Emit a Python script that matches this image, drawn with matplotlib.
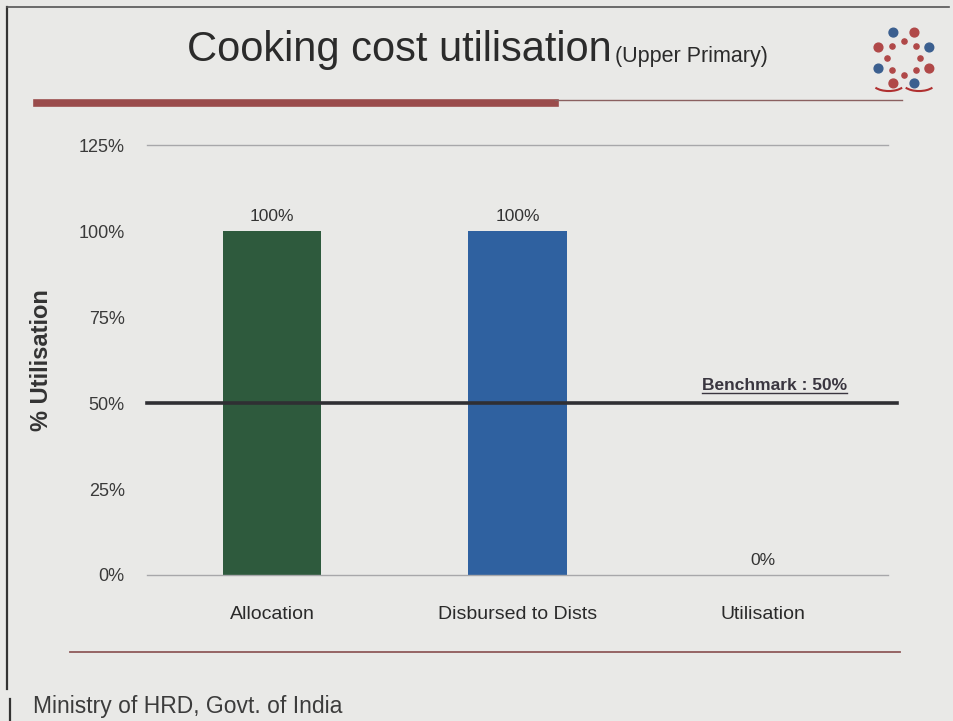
import numpy as np
import matplotlib.pyplot as plt
from matplotlib.lines import Line2D
from matplotlib.patches import Arc

# Data
categories = ["Allocation", "Disbursed to Dists", "Utilisation"]
values = [100, 100, 0]
bar_colors = ["#2e5a3d", "#2f61a0", "#8f8f8f"]
value_labels = ["100%", "100%", "0%"]
benchmark = 50
yticks = [0, 25, 50, 75, 100, 125]

plt.rcParams['font.family'] = ['Liberation Sans', 'DejaVu Sans']

bg = "#e9e9e7"
fig = plt.figure(figsize=(9.54, 7.21), dpi=100, facecolor=bg)
ax = fig.add_axes([0.154, 0.2025, 0.777, 0.596])
ax.set_facecolor(bg)

x = range(len(categories))
ax.bar(x, values, width=0.4, color=bar_colors, zorder=2)

for i, (v, lab) in enumerate(zip(values, value_labels)):
    ax.text(i, v + 2, lab, ha='center', va='bottom', fontsize=12.5, color="#333333")

# benchmark line
ax.axhline(benchmark, xmin=0.0, xmax=1.012, color="#2f2f33", lw=2.6, zorder=3, clip_on=False)
bm = ax.text(1.75, benchmark + 2.8, "Benchmark : 50%", ha='left', va='bottom',
             fontsize=12.5, fontweight='bold', color="#3a3640")

ax.set_xlim(-0.51, 2.51)
ax.set_ylim(0, 125)
ax.set_yticks(yticks)
ax.set_yticklabels([f"{t}%" for t in yticks], fontsize=13, color="#3a3a3a")
ax.set_xticks(list(x))
ax.set_xticklabels(categories, fontsize=14, color="#2a2a2a")
ax.tick_params(axis='both', length=0, pad=16)
ax.tick_params(axis='x', pad=22)
for s in ['left', 'right']:
    ax.spines[s].set_visible(False)
for s in ['top', 'bottom']:
    ax.spines[s].set_color("#a7a7aa")
    ax.spines[s].set_linewidth(1.0)
ax.set_ylabel("% Utilisation", fontsize=17, fontweight='bold', color="#333333", labelpad=18)

# title
fig.text(0.196, 0.931, "Cooking cost utilisation", fontsize=30, ha='left', va='center',
         color="#2b2b2b")
fig.text(0.645, 0.921, "(Upper Primary)", fontsize=15.5, ha='left', va='center',
         color="#2b2b2b")

# small emblem at top right
lax = fig.add_axes([0.91, 0.85, 0.075, 0.12])
lax.set_xlim(-1.3, 1.3)
lax.set_ylim(-1.7, 1.2)
lax.set_aspect('equal')
lax.axis('off')
ang = np.linspace(0, 2 * np.pi, 8, endpoint=False) + np.pi / 8
lax.scatter(np.cos(ang), np.sin(ang), s=40, c=["#3b5f8f", "#b04848"] * 4, zorder=3)
lax.scatter(0.6 * np.cos(ang + np.pi / 8), 0.6 * np.sin(ang + np.pi / 8), s=14,
            c="#b04848", zorder=3)
lax.add_patch(Arc((-0.55, -0.9), 1.2, 0.6, theta1=200, theta2=340, color="#b03030", lw=1.5))
lax.add_patch(Arc((0.55, -0.9), 1.2, 0.6, theta1=200, theta2=340, color="#b03030", lw=1.5))

# decorative rules
fig.add_artist(Line2D([0.039, 0.582], [0.857, 0.857], color="#9a4c4c", lw=5.5))
fig.add_artist(Line2D([0.582, 0.945], [0.861, 0.861], color="#8a6060", lw=1.0))
fig.add_artist(Line2D([0.073, 0.943], [0.096, 0.096], color="#8f5a5a", lw=1.3))

# frame
fig.add_artist(Line2D([0.007, 0.007], [0.045, 0.99], color="#333333", lw=1.6))
fig.add_artist(Line2D([0.011, 0.011], [0.0, 0.03], color="#333333", lw=1.6))
fig.add_artist(Line2D([0.007, 0.995], [0.99, 0.99], color="#555555", lw=1.2))

# footer
fig.text(0.035, 0.02, "Ministry of HRD, Govt. of India", fontsize=16.5, color="#3c3c3c",
         ha='left', va='center')

# underline the benchmark label
fig.canvas.draw()
bb = bm.get_window_extent().transformed(fig.transFigure.inverted())
fig.add_artist(Line2D([bb.x0, bb.x1], [bb.y0 + 0.001, bb.y0 + 0.001], color="#3a3640", lw=1.0))

fig.savefig("out.png", dpi=100, facecolor=bg)
